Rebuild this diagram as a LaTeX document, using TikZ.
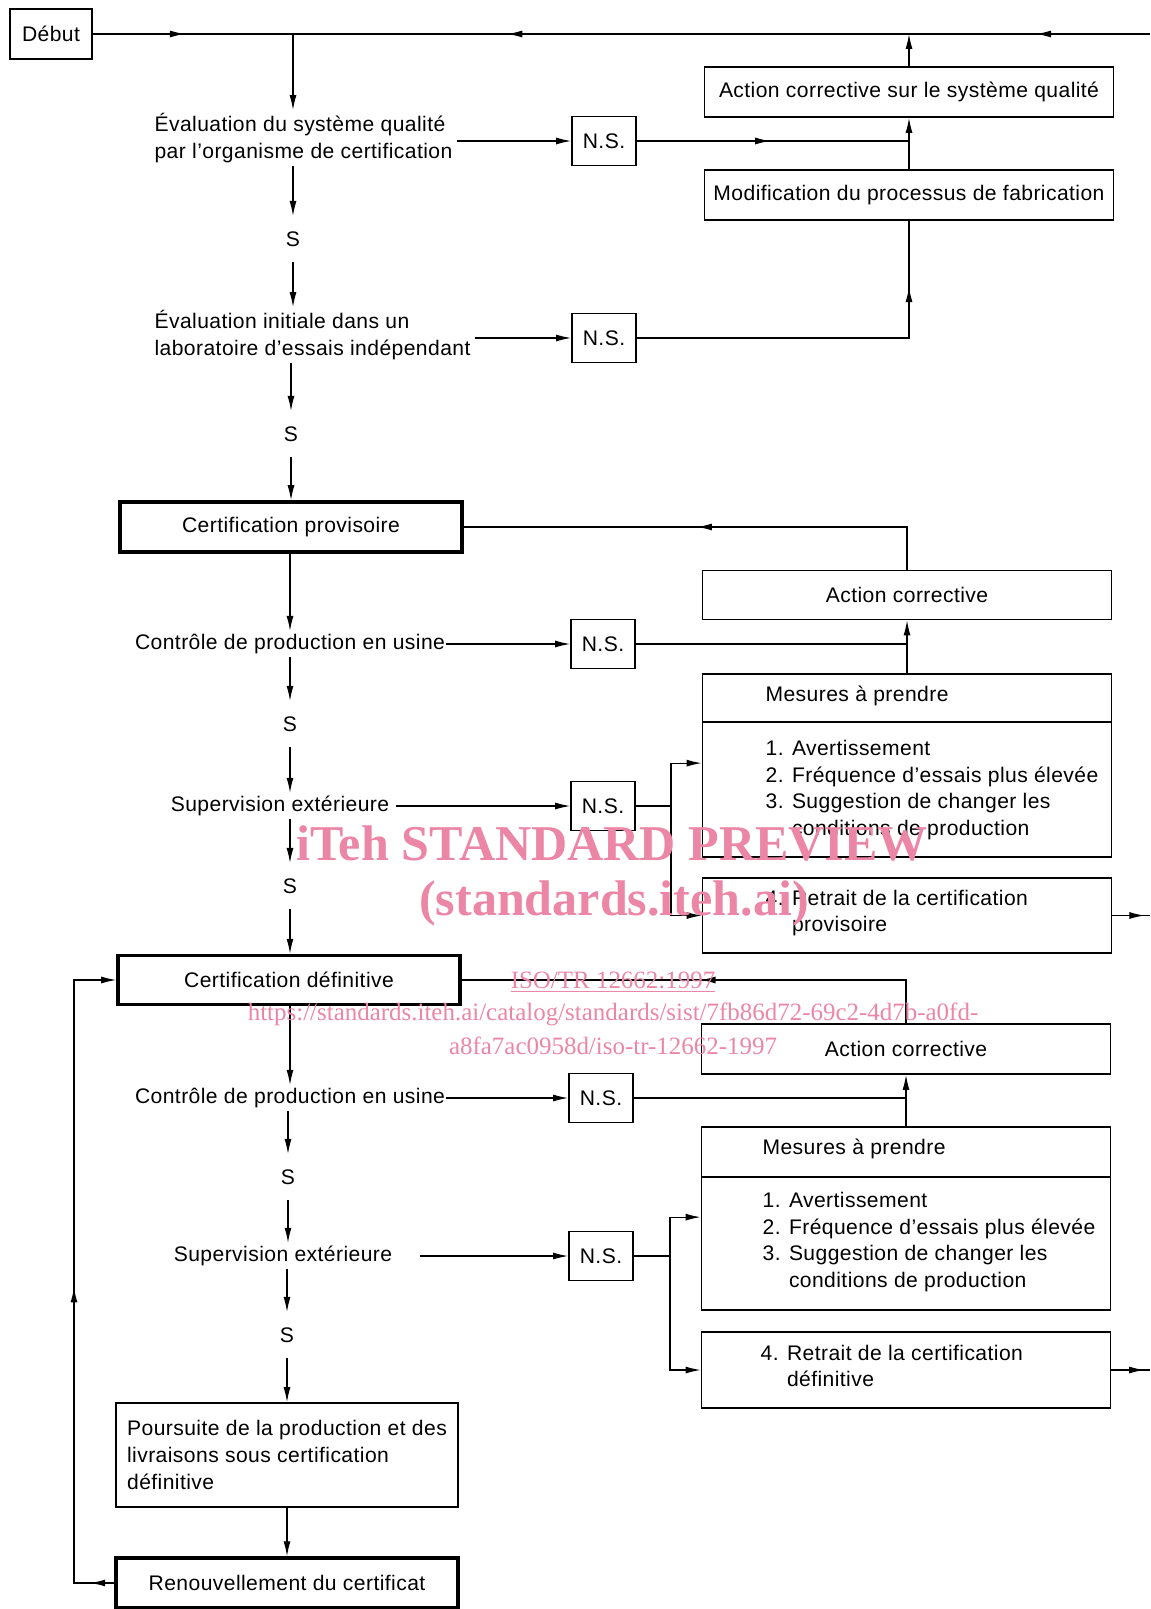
\documentclass[tikz,border=0pt]{standalone}
\usepackage{fontspec}
\setmainfont[LetterSpace=2]{Liberation Sans}
\newfontfamily\wmfont{Liberation Serif}
\usepackage{xcolor}
\usepackage{tikz}
\usetikzlibrary{arrows.meta,positioning,calc,decorations.markings}

\definecolor{wmpink}{RGB}{236,134,166}

\tikzset{
  box/.style={draw, line width=1pt, minimum width=81.8mm, minimum height=10mm, inner sep=0pt},
  heavybox/.style={box, line width=2pt, minimum width=68.4mm},
  nsbox/.style={draw, line width=1pt, minimum width=12.8mm, minimum height=9.8mm, inner sep=0pt},
  flowtext/.style={align=left, inner xsep=0pt, inner ysep=1.5pt},
  yes/.style={inner xsep=0pt, inner ysep=3mm},
  listtext/.style={anchor=west, align=left, inner sep=0pt},
  wm/.style={text=wmpink, inner sep=0pt},
  ->-/.style={decoration={markings, mark=at position #1 with {\arrow{>}}}, postaction={decorate}},
  ->-2/.style 2 args={decoration={markings, mark=at position #1 with {\arrow{>}},
      mark=at position #2 with {\arrow{>}}}, postaction={decorate}}
}

\begin{document}
\begin{tikzpicture}[x=0.2mm, y=-0.2mm, line width=0.7pt,
    >={Latex[length=3mm,width=1.4mm]},
    font=\fontsize{12}{15.2}\selectfont]
    \useasboundingbox (0,0) rectangle (1150,1609);

    % Evaluations
    \node[box, minimum width=16.4mm] (debut) at (51,34) {Début};
    \node[flowtext, anchor=west] (eval1) at (154,138) {Évaluation du système qualité\\par l’organisme de certification};
    \node[nsbox] (ns1) at (604,141) {N.S.};
    \node[box] (acsq) at (909,92) {Action corrective sur le système qualité};
    \node[box] (modif) at (909,195) {Modification du processus de fabrication};
    \node[yes] (s1) at (293,239) {S};
    \node[flowtext, anchor=west] (eval2) at (154,335) {Évaluation initiale dans un\\laboratoire d’essais indépendant};
    \node[nsbox] (ns2) at (604,338) {N.S.};
    \node[yes] (s2) at (291,434) {S};

    % Certification provisoire
    \node[heavybox] (cp) at (291,527) {Certification provisoire};
    \node[box, minimum height=9.8mm] (ac1) at (907,595) {Action corrective};
    \node[flowtext] (ctrl1) at (290,644) {Contrôle de production en usine};
    \node[nsbox] (ns3) at (603,644) {N.S.};
    \node[box, minimum height=9.6mm] (mes1h) at (907,698) {};
    \node[box, minimum height=27mm] (mes1b) at (907,789.5) {};
    \node[listtext] (mes1title) at (765,696) {Mesures à prendre};
    \node[listtext] (mes1list) at (765,790) {1. Avertissement\\2. Fréquence d’essais plus élevée\\3. Suggestion de changer les\\\hphantom{3. }conditions de production};
    \node[box, minimum height=15mm] (ret1) at (907,915.5) {};
    \node[listtext] (ret1text) at (765,913) {4. Retrait de la certification\\\hphantom{4. }provisoire};
    \node[yes] (s3) at (290,724) {S};
    \node[flowtext] (sup1) at (280,806) {Supervision extérieure};
    \node[nsbox] (ns4) at (603,806) {N.S.};
    \coordinate (j1) at (671,806);
    \node[yes] (s4) at (290,886) {S};

    % Certification definitive
    \node[heavybox, minimum height=9.8mm] (cd) at (289,980) {Certification définitive};
    \node[box] (ac2) at (906,1049) {Action corrective};
    \node[flowtext] (ctrl2) at (290,1098) {Contrôle de production en usine};
    \node[nsbox] (ns5) at (601,1098) {N.S.};
    \node[box] (mes2h) at (906,1152) {};
    \node[box, minimum height=26.6mm] (mes2b) at (906,1243.5) {};
    \node[listtext] (mes2title) at (762,1149) {Mesures à prendre};
    \node[listtext] (mes2list) at (762,1242) {1. Avertissement\\2. Fréquence d’essais plus élevée\\3. Suggestion de changer les\\\hphantom{3. }conditions de production};
    \node[box, minimum height=15.2mm] (ret2) at (906,1370) {};
    \node[listtext] (ret2text) at (760,1366) {4. Retrait de la certification\\\hphantom{4. }définitive};
    \node[yes] (s5) at (288,1177) {S};
    \node[flowtext] (sup2) at (283,1256) {Supervision extérieure};
    \node[nsbox] (ns6) at (601,1256) {N.S.};
    \coordinate (j2) at (670,1256);
    \node[yes] (s6) at (287,1335) {S};
    \node[box, minimum width=68.4mm, minimum height=20.8mm, align=left] (pours) at (287,1455) {Poursuite de la production et des\\livraisons sous certification\\définitive};
    \node[heavybox] (renouv) at (287,1583) {Renouvellement du certificat};

    % Top line
    \coordinate (top1) at (293,34);
    \coordinate (topr) at (1150,34);
    \draw[->-=0.46] (debut) -- (top1);
    \draw[->-2={0.133}{0.75}] (topr) -- (top1);
    \draw[->] (top1) -- (eval1.north -| top1);
    \draw[->] (acsq.north) -- (acsq.north |- top1);
    \draw[->] (modif.north) -- (acsq.south);
    \draw[->] ([xshift=0.8mm]eval1.east |- ns1) -- (ns1.west);
    \draw[->-=0.49] (ns1.east) -- (ns1 -| modif);
    \draw[->-=0.83] (ns2.east) -| (modif.south);
    \draw[->] (eval1.south -| s1) -- (s1.north);
    \draw[->] (s1.south) -- (eval2.north -| s1);
    \draw[->] ([xshift=0.8mm]eval2.east |- ns2) -- (ns2.west);
    \draw[->] (eval2.south -| s2) -- (s2.north);
    \draw[->] (s2.south) -- (s2.south |- cp.north);

    % Provisional loop
    \draw[->-=0.52] (ac1.north) |- (cp.east);
    \draw[->] (cp.south -| ctrl1) -- (ctrl1.north);
    \draw[->] (ctrl1.east) -- (ns3.west);
    \draw (ns3.east) -- (ns3 -| ac1);
    \draw[->] (mes1h.north) -- (ac1.south);
    \draw[->] (ctrl1.south -| s3) -- (s3.north);
    \draw[->] (s3.south) -- (sup1.north -| s3);
    \draw[->] ([xshift=1.2mm]sup1.east) -- (ns4.west);
    \draw (ns4.east) -- (j1);
    \draw[->] (j1) |- ($(mes1b.north west)+(0,42)$);
    \draw[->] (j1) |- (ret1.west);
    \draw[->-=0.85] (ret1.east) -- (ret1.east -| topr);
    \draw[->] (sup1.south -| s4) -- (s4.north);
    \draw[->] (s4.south) -- (s4.south |- cd.north);

    % Definitive loop
    \draw[->-=0.51] (ac2.north) |- (cd.east);
    \draw[->] (cd.south -| ctrl2) -- (ctrl2.north);
    \draw[->] (ctrl2.east) -- (ns5.west);
    \draw (ns5.east) -- (ns5 -| ac2);
    \draw[->] (mes2h.north) -- (ac2.south);
    \draw[->] (ctrl2.south -| s5) -- (s5.north);
    \draw[->] (s5.south) -- (sup2.north -| s5);
    \draw[->] ([xshift=5.4mm]sup2.east) -- (ns6.west);
    \draw (ns6.east) -- (j2);
    \draw[->] (j2) |- ($(mes2b.north west)+(0,41)$);
    \draw[->] (j2) |- (ret2.west);
    \draw[->-=0.85] (ret2.east) -- (ret2.east -| topr);
    \draw[->] (sup2.south -| s6) -- (s6.north);
    \draw[->] (s6.south) -- (s6.south |- pours.north);
    \draw[->] (pours.south) -- (renouv.north);
    \coordinate (back) at (74,1583);
    \draw[->, ->-2={0.035}{0.49}] (renouv.west) -- (back) |- (cd.west);

    % Watermark
    \node[wm, font=\wmfont\bfseries\fontsize{28.5}{30}\selectfont] (wmtitle) at (612,843) {iTeh STANDARD PREVIEW};
    \node[wm, font=\wmfont\bfseries\fontsize{28.5}{30}\selectfont] (wmsite) at (614,903) {(standards.iteh.ai)};
    \node[wm, font=\wmfont\fontsize{14.2}{16}\selectfont] (wmiso) at (613,982) {\underline{ISO/TR 12662:1997}};
    \node[wm, font=\wmfont\fontsize{14.2}{16}\selectfont] (wmurl) at (613,1014) {https://standards.iteh.ai/catalog/standards/sist/7fb86d72-69c2-4d7b-a0fd-};
    \node[wm, font=\wmfont\fontsize{14.2}{16}\selectfont] (wmurltwo) at (613,1046) {a8fa7ac0958d/iso-tr-12662-1997};
\end{tikzpicture}
\end{document}
